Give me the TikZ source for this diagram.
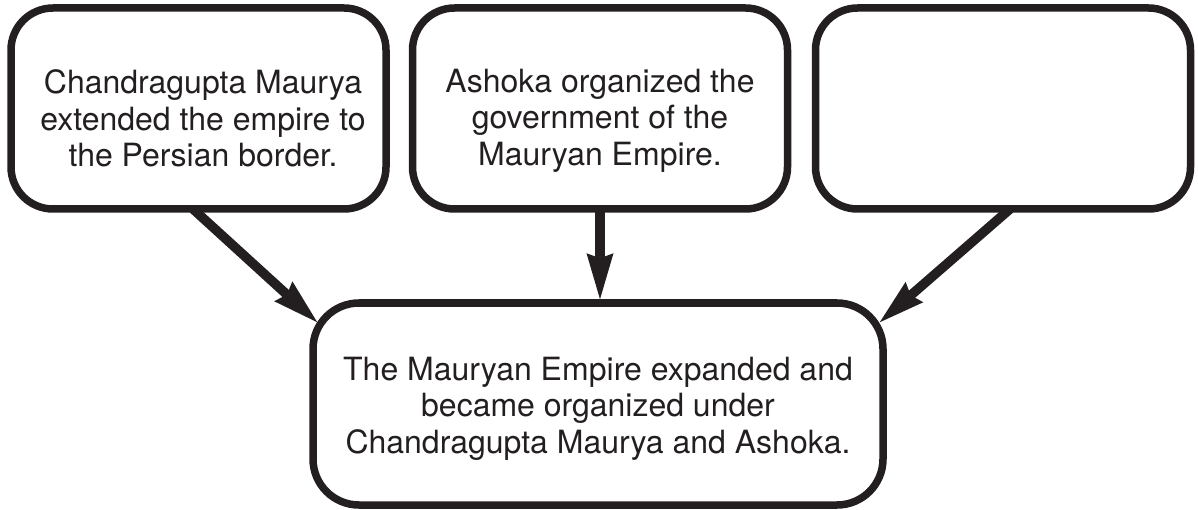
\documentclass[tikz,border=0pt]{standalone}
\usepackage{fontspec}
\setmainfont{TeX Gyre Heros}
\usetikzlibrary{arrows.meta,calc}
\definecolor{ink}{HTML}{231F20}
\begin{document}
\begin{tikzpicture}[x=1pt,y=-1pt,
  box/.style={draw=ink, line width=7.5pt, rounded corners=42pt, minimum width=375pt, minimum height=201pt, inner sep=0pt},
  bigbox/.style={box, rounded corners=46pt, minimum width=570pt, minimum height=202pt},
  txt/.style={text=ink, font=\fontsize{32}{36.5}\selectfont, align=center, inner sep=0pt, anchor=base},
  arr/.style={draw=ink, line width=9.5pt, -{Stealth[length=46pt,width=27pt,inset=5pt,line width=0pt]}}]
\useasboundingbox (0,0) rectangle (1198,510);
\node[box] (b1) at (198.5,108.5) {};
\node[box] (b2) at (600,108.5) {};
\node[box] (b3) at (1003,108.5) {};
\node[bigbox] (bot) at (598,404) {};
\node[txt] (t1) at (203,167) {Chandragupta Maurya\\extended the empire to\\the Persian border.};
\node[txt] (t2) at (600,165.5) {Ashoka organized the\\government of the\\Mauryan Empire.};
\node[txt] (t4) at (598,453) {The Mauryan Empire expanded and\\became organized under\\Chandragupta Maurya and Ashoka.};
\coordinate (s1) at ($(b1.south)+(-5.5,-3.75)$);
\coordinate (e1) at ($(bot.north west)+(8,23)$);
\coordinate (s2) at ($(b2.south)+(0,-3.75)$);
\coordinate (e2) at (b2.south |- bot.north);
\coordinate (s3) at ($(b3.south)+(7,-3.75)$);
\coordinate (e3) at ($(bot.north east)+(-7,23)$);
\draw[arr] (s1) -- (e1);
\draw[arr] (s2) -- (e2);
\draw[arr] (s3) -- (e3);
\end{tikzpicture}
\end{document}
